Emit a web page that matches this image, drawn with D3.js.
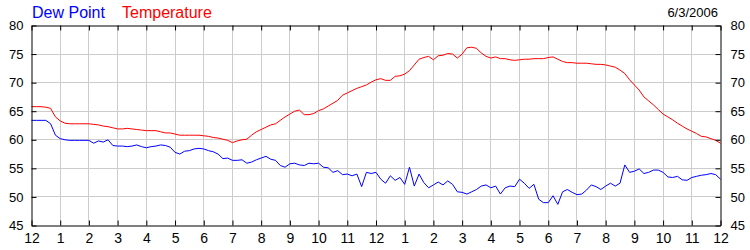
<!DOCTYPE html>
<html>
<head>
<meta charset="utf-8">
<script src="https://cdn.jsdelivr.net/npm/d3@7"></script>
<style>
  body { margin: 0; background: #fff; }
  svg { display: block; font-family: "Liberation Sans", Arial, sans-serif; }
  .axis path, .axis line { stroke: #000; }
  .grid line { stroke: #cccccc; }
</style>
</head>
<body>
<div id="chart"></div>
<script>
// readings every 10 minutes, midnight to midnight
const STEP_MIN = 10;
const temperature = [
  65.8, 65.8, 65.8, 65.7, 65.5, 64.0, 63.3, 62.9, 62.8, 62.8, 62.8, 62.8,
  62.8, 62.7, 62.6, 62.4, 62.3, 62.1, 61.9, 61.9, 62.0, 61.9, 61.8, 61.7,
  61.6, 61.6, 61.6, 61.4, 61.2, 61.2, 61.0, 60.8, 60.8, 60.8, 60.8, 60.8,
  60.7, 60.6, 60.4, 60.3, 60.1, 59.9, 59.5, 59.8, 60.0, 60.1, 60.8, 61.4,
  61.8, 62.2, 62.6, 62.8, 63.4, 64.0, 64.5, 65.0, 65.2, 64.4, 64.4, 64.6,
  65.1, 65.4, 65.9, 66.4, 66.9, 67.8, 68.2, 68.6, 69.0, 69.3, 69.6, 70.1,
  70.5, 70.7, 70.4, 70.4, 71.1, 71.2, 71.5, 72.1, 73.1, 74.1, 74.4, 74.6,
  74.0, 74.7, 74.8, 75.1, 75.0, 74.3, 75.0, 76.1, 76.2, 76.0, 75.2, 74.6,
  74.3, 74.5, 74.2, 74.2, 74.0, 73.9, 74.0, 74.1, 74.1, 74.2, 74.2, 74.2,
  74.4, 74.5, 74.1, 73.7, 73.5, 73.5, 73.4, 73.4, 73.4, 73.3, 73.2, 73.2,
  73.1, 72.9, 72.7, 72.2, 71.6, 70.5, 69.6, 68.7, 67.5, 66.8, 66.1, 65.3,
  64.5, 64.0, 63.5, 62.9, 62.4, 61.9, 61.5, 61.1, 60.6, 60.5, 60.2, 59.9,
  59.4
];
const dewPoint = [
  63.4, 63.4, 63.4, 63.4, 62.8, 60.8, 60.2, 60.0, 59.9, 59.9, 59.9, 59.9,
  59.9, 59.4, 59.8, 59.6, 60.0, 59.0, 58.9, 58.9, 58.8, 58.9, 59.1, 58.8,
  58.6, 58.8, 58.9, 59.1, 59.0, 58.7, 57.8, 57.5, 58.0, 58.1, 58.4, 58.5,
  58.4, 58.1, 57.9, 57.5, 56.7, 56.8, 56.4, 56.4, 56.5, 55.9, 56.1, 56.5,
  56.8, 57.1, 56.6, 56.4, 55.5, 55.2, 55.8, 55.9, 55.6, 55.5, 55.9, 55.8,
  55.9, 55.2, 55.1, 54.3, 54.6, 53.9, 54.0, 53.7, 54.0, 51.8, 54.3, 54.1,
  54.3, 53.1, 52.4, 53.7, 52.9, 53.4, 52.2, 55.2, 51.9, 54.0, 52.5, 51.6,
  52.1, 52.6, 52.1, 52.8, 52.2, 50.9, 50.8, 50.5, 50.9, 51.3, 51.9, 52.1,
  51.6, 51.9, 50.5, 51.6, 51.9, 51.8, 53.1, 52.4, 51.5, 52.2, 49.6, 49.0,
  49.0, 50.2, 48.7, 50.9, 51.3, 50.8, 50.4, 50.5, 51.2, 52.1, 51.8, 51.3,
  51.9, 52.4, 51.9, 52.4, 55.6, 54.3, 54.5, 54.9, 54.1, 54.3, 54.7, 54.7,
  54.3, 53.5, 53.4, 53.6, 53.0, 52.9, 53.4, 53.6, 53.8, 53.9, 54.1, 53.9,
  53.1
];
const hourTicks = [0, 1, 2, 3, 4, 5, 6, 7, 8, 9, 10, 11, 12, 13, 14, 15, 16, 17, 18, 19, 20, 21, 22, 23, 24];
const hourLabels = ['12', '1', '2', '3', '4', '5', '6', '7', '8', '9', '10', '11',
                    '12', '1', '2', '3', '4', '5', '6', '7', '8', '9', '10', '11', '12'];
const tempTicks = [45, 50, 55, 60, 65, 70, 75, 80];
const seriesNames = ['Dew Point', 'Temperature'];
const seriesColors = ['#0000ff', '#ff0000'];
const dateLabel = '6/3/2006';

const W = 750, H = 250,
      M = {top: 25, right: 30, bottom: 25, left: 31},
      IW = W - M.left - M.right,
      IH = H - M.top - M.bottom;

const svg = d3.select('#chart').append('svg')
  .attr('width', W)
  .attr('height', H);

const x = d3.scaleLinear().domain([0, 24]).range([0, IW]);
const y = d3.scaleLinear().domain([45, 80]).range([IH, 0]);

const g = svg.append('g').attr('transform', `translate(${M.left + 0.5},${M.top + 0.5})`);

// grid
const grid = g.append('g').attr('class', 'grid');
grid.selectAll('line.v')
  .data(hourTicks.slice(1, -1))
  .enter().append('line')
  .attr('class', 'v')
  .attr('x1', d => Math.round(x(d))).attr('x2', d => Math.round(x(d)))
  .attr('y1', 0).attr('y2', IH);
grid.selectAll('line.h')
  .data(tempTicks.slice(1, -1))
  .enter().append('line')
  .attr('class', 'h')
  .attr('x1', 0).attr('x2', IW)
  .attr('y1', d => Math.round(y(d))).attr('y2', d => Math.round(y(d)));

// series
const times = temperature.map((d, i) => i * STEP_MIN / 60);
const line = d3.line()
  .x((d, i) => x(times[i]))
  .y(d => y(d));

[dewPoint, temperature].forEach((s, i) => {
  g.append('path')
    .datum(s)
    .attr('fill', 'none')
    .attr('stroke', seriesColors[i])
    .attr('stroke-width', 1)
    .attr('stroke-linejoin', 'round')
    .attr('d', line);
});

// axes
const fontSize = '13px';
g.append('g').attr('class', 'axis')
  .attr('transform', `translate(0,${IH})`)
  .call(d3.axisBottom(x).tickValues(hourTicks).tickFormat((d, i) => hourLabels[i])
    .tickSizeInner(-5).tickSizeOuter(0).tickPadding(8))
  .call(a => a.selectAll('text').attr('fill', '#000').style('font-size', '14px'));

g.append('g').attr('class', 'axis')
  .call(d3.axisTop(x).tickValues(hourTicks).tickFormat('')
    .tickSizeInner(-5).tickSizeOuter(0));

g.append('g').attr('class', 'axis')
  .call(d3.axisLeft(y).tickValues(tempTicks)
    .tickSizeInner(-5).tickSizeOuter(0).tickPadding(8))
  .call(a => a.selectAll('text').attr('fill', '#000').style('font-size', fontSize));

g.append('g').attr('class', 'axis')
  .attr('transform', `translate(${IW},0)`)
  .call(d3.axisRight(y).tickValues(tempTicks)
    .tickSizeInner(-5).tickSizeOuter(0).tickPadding(10))
  .call(a => a.selectAll('text').attr('fill', '#000').style('font-size', fontSize));

// legend
const legendX = [32, 122];
svg.selectAll('text.legend')
  .data(seriesNames)
  .enter().append('text')
  .attr('class', 'legend')
  .attr('x', (d, i) => legendX[i])
  .attr('y', 18)
  .attr('fill', (d, i) => seriesColors[i])
  .style('font-size', '16px')
  .text(d => d);

svg.append('text')
  .attr('x', M.left + IW - 2)
  .attr('y', 17)
  .attr('text-anchor', 'end')
  .attr('fill', '#000')
  .style('font-size', '13px')
  .text(dateLabel);
</script>
</body>
</html>
